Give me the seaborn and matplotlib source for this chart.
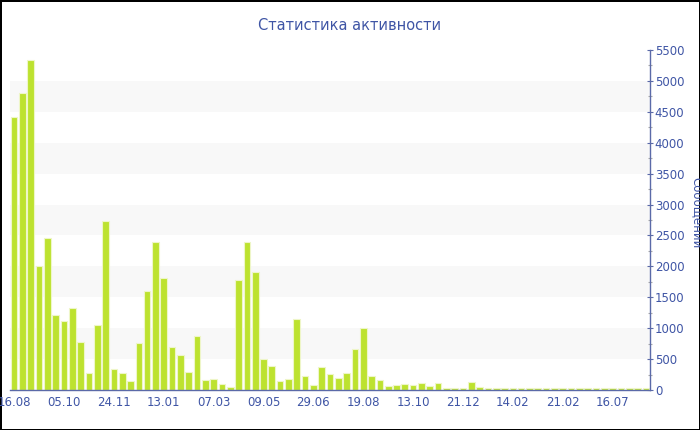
import matplotlib
matplotlib.use("Agg")
import matplotlib.pyplot as plt
import seaborn as sns
import pandas as pd

# weekly message counts
messages = [4420, 4800, 5340, 2006, 2454, 1213, 1122, 1332, 771, 270,
            1052, 2740, 340, 270, 146, 755, 1597, 2390, 1807, 701,
            566, 286, 874, 167, 183, 102, 49, 1780, 2400, 1909,
            496, 388, 146, 173, 1143, 232, 81, 372, 259, 194,
            270, 663, 1003, 232, 162, 65, 86, 97, 81, 108,
            65, 113, 35, 35, 38, 135, 52, 25, 25, 25,
            28, 25, 28, 25, 28, 35, 35, 25, 35, 35,
            25, 25, 25, 25, 25, 25, 25]
week = list(range(len(messages)))
date_labels = ["16.08", "05.10", "24.11", "13.01", "07.03", "09.05", "29.06",
               "19.08", "13.10", "21.12", "14.02", "21.02", "16.07"]

df = pd.DataFrame({"week": week, "messages": messages})

blue = "#3f55a5"
axis_blue = "#5b6aa8"

sns.set_style("white")
plt.rcParams["font.family"] = ["DejaVu Sans"]

fig = plt.figure(figsize=(7, 4.3), dpi=100)
ax = fig.add_axes([10 / 700, 40 / 430, 640 / 700, 340 / 430])

# alternating background bands
for lo in range(500, 5500, 1000):
    ax.axhspan(lo, lo + 500, color="#f8f8f8", zorder=0, lw=0)

sns.barplot(data=df, x="week", y="messages", color="#bde22f", saturation=1,
            edgecolor="#eef6c8", linewidth=0.8, width=0.8, ax=ax, zorder=2)

ax.set_xlim(-0.5, len(messages) - 0.5)
ax.set_ylim(0, 5500)
ax.set_xticks(range(0, len(messages), 6)[:len(date_labels)])
ax.set_xticklabels(date_labels)
ax.yaxis.tick_right()
ax.set_yticks(range(0, 5501, 500))
ax.set_yticks(range(250, 5500, 500), minor=True)
ax.set_xlabel("")
ax.set_ylabel("")

for s in ["top", "left"]:
    ax.spines[s].set_visible(False)
for s in ["right", "bottom"]:
    ax.spines[s].set_color(axis_blue)
    ax.spines[s].set_linewidth(1)

ax.tick_params(axis="y", which="major", direction="inout", length=5, width=0.8,
               color=axis_blue, labelcolor=blue, labelsize=8.5, pad=1,
               right=True, left=False)
ax.tick_params(axis="y", which="minor", direction="inout", length=3, width=0.8,
               color="#aaaaaa", right=True, left=False)
ax.tick_params(axis="x", direction="inout", length=5, width=0.8,
               color="#aaaaaa", labelcolor=blue, labelsize=8.5, pad=2)

fig.text(0.5, 1 - 25 / 430, "Статистика активности", ha="center", va="center",
         fontsize=10.5, color=blue)
fig.text(697 / 700, 1 - 213 / 430, "Сообщений", rotation=270, ha="center",
         va="center", fontsize=8.5, color=blue)

fig.patch.set_edgecolor("black")
fig.patch.set_linewidth(2)
fig.savefig("out.png", dpi=100, facecolor="white", edgecolor="black")
